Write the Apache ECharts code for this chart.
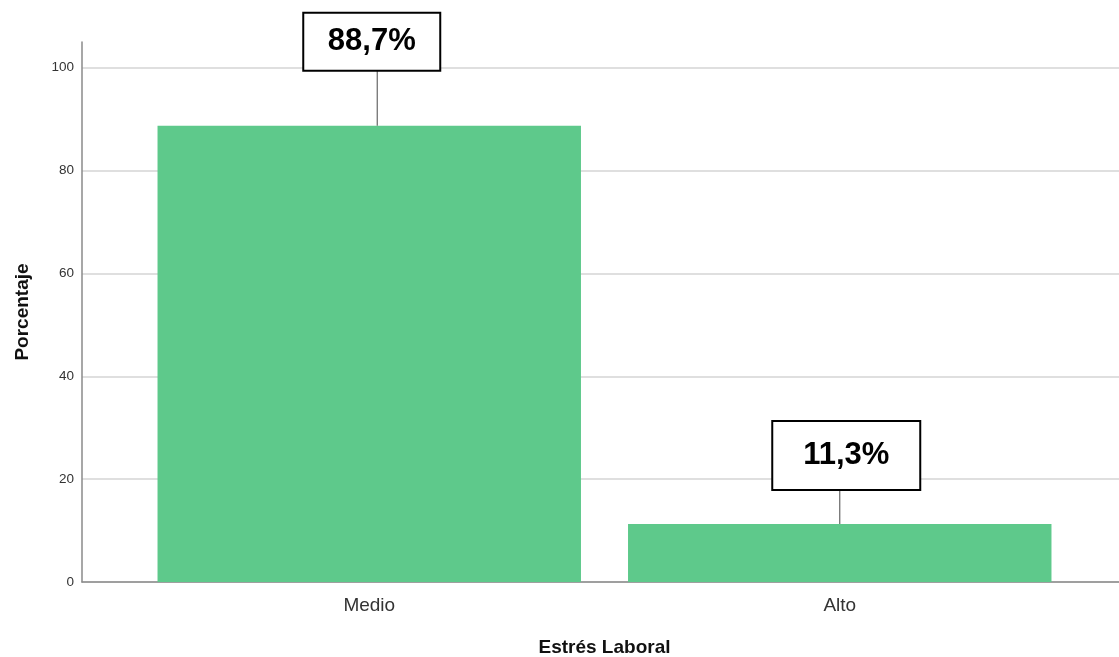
<!DOCTYPE html>
<html>
<head>
<meta charset="utf-8">
<script src="https://cdn.jsdelivr.net/npm/echarts@6/dist/echarts.min.js"></script>
<style>
  html, body { margin: 0; padding: 0; background: #fff; }
  #chart { width: 1119px; height: 657px; }
</style>
</head>
<body>
<div id="chart"></div>
<script>
// ---- data ----
const categories = ['Medio', 'Alto'];
const percentages = [88.7, 11.3];
const yTicks = [0, 20, 40, 60, 80, 100];
const xAxisTitle = 'Estrés Laboral';
const yAxisTitle = 'Porcentaje';

// ---- callout styling (positions/sizes, not data) ----
const calloutStyle = [
  { gap: 55, w: 137, h: 58, boxDx: 2.5, lineDx: 8 },
  { gap: 34, w: 148, h: 69, boxDx: 6.5, lineDx: 0 }
];

const fmt = v => v.toFixed(1).replace('.', ',') + '%';

const chart = echarts.init(document.getElementById('chart'), null, { renderer: 'canvas' });

const FONT = '"Liberation Sans", Arial, sans-serif';
const Y_MAX = 105;          // extent of the axis line
const TICK_MAX = yTicks[yTicks.length - 1];
const TOP = 42, BOTTOM = 75, H = 657;
const plotH = H - TOP - BOTTOM;
const tickTop = TOP + plotH * (Y_MAX - TICK_MAX) / Y_MAX;

const gridBase = { containLabel: false, outerBoundsMode: 'none' };

chart.setOption({
  animation: false,
  backgroundColor: '#ffffff',
  grid: [
    Object.assign({ left: 82, right: 0, top: TOP, bottom: BOTTOM }, gridBase),       // axis lines
    Object.assign({ left: 134, right: 44, top: TOP, bottom: BOTTOM }, gridBase),     // bars
    Object.assign({ left: 82, right: 0, top: tickTop, bottom: BOTTOM }, gridBase)    // ticks + gridlines
  ],
  xAxis: [
    {
      gridIndex: 0, type: 'category', data: [''],
      axisLine: { show: true, lineStyle: { color: '#8a8a8a', width: 1.5 } },
      axisTick: { show: false }, axisLabel: { show: false }, splitLine: { show: false }
    },
    {
      gridIndex: 1, type: 'category', data: categories,
      axisLine: { show: false }, axisTick: { show: false },
      axisLabel: { color: '#333', fontSize: 19, fontFamily: FONT, margin: 14 },
      name: xAxisTitle, nameLocation: 'middle', nameGap: 56,
      nameTextStyle: { color: '#111', fontSize: 19, fontWeight: 'bold', fontFamily: FONT }
    },
    {
      gridIndex: 2, type: 'category', data: [''], show: false
    }
  ],
  yAxis: [
    {
      gridIndex: 0, type: 'value', min: 0, max: Y_MAX,
      axisLine: { show: true, lineStyle: { color: '#8a8a8a', width: 1.5 } },
      axisTick: { show: false }, axisLabel: { show: false }, splitLine: { show: false },
      name: yAxisTitle, nameLocation: 'middle', nameGap: 50, nameRotate: 90,
      nameTextStyle: { color: '#111', fontSize: 19, fontWeight: 'bold', fontFamily: FONT }
    },
    {
      gridIndex: 1, type: 'value', min: 0, max: Y_MAX, show: false,
      splitLine: { show: false }
    },
    {
      gridIndex: 2, type: 'value', min: yTicks[0], max: TICK_MAX, interval: yTicks[1] - yTicks[0],
      axisLine: { show: false }, axisTick: { show: false },
      axisLabel: { color: '#333', fontSize: 13.5, fontFamily: FONT, margin: 8 },
      splitLine: { show: true, lineStyle: { color: '#d4d4d4', width: 1.5 } }
    }
  ],
  series: [
    {
      type: 'bar', xAxisIndex: 1, yAxisIndex: 1,
      data: percentages,
      barCategoryGap: '10%',
      itemStyle: { color: '#5ec98b' },
      z: 3
    },
    {
      type: 'custom', xAxisIndex: 1, yAxisIndex: 1,
      clip: false, z: 5,
      data: percentages.map((v, i) => [i, v]),
      renderItem: function (params, api) {
        const i = params.dataIndex;
        const s = calloutStyle[i];
        const p = api.coord([api.value(0), api.value(1)]);
        const boxBottom = p[1] - s.gap;
        const cx = p[0] + s.boxDx;
        return {
          type: 'group',
          children: [
            {
              type: 'line',
              shape: { x1: p[0] + s.lineDx, y1: p[1], x2: p[0] + s.lineDx, y2: boxBottom },
              style: { stroke: '#666', lineWidth: 1.2 }
            },
            {
              type: 'rect',
              shape: { x: cx - s.w / 2, y: boxBottom - s.h, width: s.w, height: s.h },
              style: { fill: '#ffffff', stroke: '#000', lineWidth: 2 }
            },
            {
              type: 'text',
              style: {
                x: cx, y: boxBottom - s.h / 2,
                text: fmt(api.value(1)),
                align: 'center', verticalAlign: 'middle',
                font: 'bold 31px ' + FONT,
                fill: '#000'
              }
            }
          ]
        };
      }
    }
  ]
});
</script>
</body>
</html>
